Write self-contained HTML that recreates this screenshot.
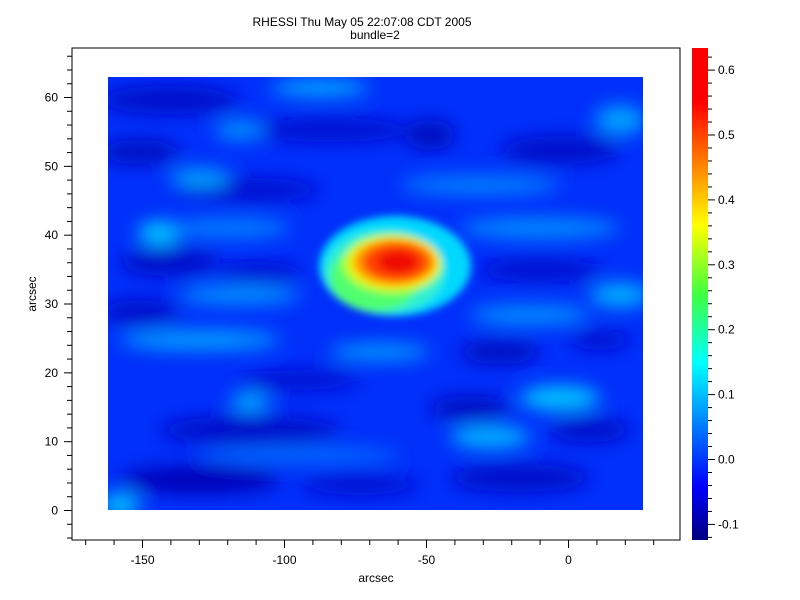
<!DOCTYPE html>
<html><head><meta charset="utf-8"><style>
body{margin:0;background:#fff;}
svg{display:block;font-family:"Liberation Sans","DejaVu Sans",sans-serif;}
</style></head><body>
<svg width="800" height="600" viewBox="0 0 800 600" xmlns="http://www.w3.org/2000/svg">
<defs>
<clipPath id="img"><rect x="108" y="77" width="535" height="433"/></clipPath>
<filter id="b1" x="-50%" y="-50%" width="200%" height="200%"><feGaussianBlur stdDeviation="9"/></filter>
<filter id="b2" x="-50%" y="-50%" width="200%" height="200%"><feGaussianBlur stdDeviation="4"/></filter>
<linearGradient id="jet" x1="0" y1="1" x2="0" y2="0">
<stop offset="0" stop-color="#000080"/>
<stop offset="0.11" stop-color="#0000ff"/>
<stop offset="0.36" stop-color="#00ffff"/>
<stop offset="0.5" stop-color="#40ff40"/>
<stop offset="0.64" stop-color="#ffff00"/>
<stop offset="0.89" stop-color="#ff0000"/>
<stop offset="1" stop-color="#ff0000"/>
</linearGradient>
</defs>
<text x="362" y="26" font-size="12" text-anchor="middle">RHESSI Thu May 05 22:07:08 CDT 2005</text>
<text x="375" y="39" font-size="12" text-anchor="middle">bundle=2</text>

<g clip-path="url(#img)">
<rect x="108" y="77" width="535" height="433" fill="#0030fa"/>
<g filter="url(#b1)">
<ellipse cx="170" cy="100" rx="70" ry="14" fill="#0008c8"/>
<ellipse cx="140" cy="152" rx="40" ry="12" fill="#0008c0"/>
<ellipse cx="330" cy="130" rx="80" ry="12" fill="#0010d0"/>
<ellipse cx="560" cy="150" rx="60" ry="14" fill="#0008c8"/>
<ellipse cx="430" cy="135" rx="25" ry="15" fill="#0008c0"/>
<ellipse cx="250" cy="190" rx="70" ry="12" fill="#0010d0"/>
<ellipse cx="170" cy="262" rx="50" ry="14" fill="#0008c8"/>
<ellipse cx="260" cy="272" rx="40" ry="10" fill="#0010d0"/>
<ellipse cx="540" cy="270" rx="60" ry="12" fill="#0010d0"/>
<ellipse cx="140" cy="312" rx="40" ry="12" fill="#0008c8"/>
<ellipse cx="500" cy="352" rx="40" ry="12" fill="#0008c0"/>
<ellipse cx="600" cy="340" rx="30" ry="10" fill="#0010d0"/>
<ellipse cx="300" cy="380" rx="60" ry="10" fill="#0010d0"/>
<ellipse cx="470" cy="408" rx="40" ry="12" fill="#0008c0"/>
<ellipse cx="250" cy="430" rx="90" ry="14" fill="#0008c8"/>
<ellipse cx="590" cy="430" rx="40" ry="12" fill="#0008c8"/>
<ellipse cx="200" cy="480" rx="80" ry="14" fill="#0000b8"/>
<ellipse cx="520" cy="478" rx="70" ry="14" fill="#0008c8"/>
<ellipse cx="360" cy="485" rx="60" ry="10" fill="#0010d0"/>
<ellipse cx="320" cy="88" rx="50" ry="8" fill="#00b0ff"/>
<ellipse cx="620" cy="120" rx="25" ry="15" fill="#00a0ff"/>
<ellipse cx="240" cy="130" rx="25" ry="10" fill="#0090ff"/>
<ellipse cx="200" cy="178" rx="30" ry="10" fill="#00a0ff"/>
<ellipse cx="480" cy="185" rx="80" ry="10" fill="#0080ff"/>
<ellipse cx="160" cy="233" rx="22" ry="12" fill="#00c8ff"/>
<ellipse cx="230" cy="228" rx="60" ry="10" fill="#0080ff"/>
<ellipse cx="540" cy="228" rx="80" ry="10" fill="#0090ff"/>
<ellipse cx="240" cy="295" rx="60" ry="10" fill="#0090ff"/>
<ellipse cx="620" cy="295" rx="30" ry="12" fill="#00b0ff"/>
<ellipse cx="200" cy="340" rx="80" ry="10" fill="#00a0ff"/>
<ellipse cx="380" cy="352" rx="50" ry="8" fill="#00a0ff"/>
<ellipse cx="530" cy="315" rx="60" ry="10" fill="#0090ff"/>
<ellipse cx="250" cy="402" rx="20" ry="9" fill="#00b0ff"/>
<ellipse cx="560" cy="398" rx="40" ry="12" fill="#00c8ff"/>
<ellipse cx="490" cy="437" rx="40" ry="10" fill="#00c0ff"/>
<ellipse cx="300" cy="455" rx="100" ry="8" fill="#0070ff"/>
<ellipse cx="120" cy="505" rx="20" ry="12" fill="#00c0ff"/>
</g>
<g filter="url(#b2)">
<ellipse cx="395" cy="266" rx="76" ry="50" fill="#00d8ff"/>
<ellipse cx="385" cy="272" rx="60" ry="42" fill="#30f0d0"/>
<ellipse cx="375" cy="278" rx="45" ry="33" fill="#50ff70"/>
<ellipse cx="392" cy="264" rx="50" ry="30" fill="#b0ff30"/>
<ellipse cx="394" cy="263" rx="45" ry="26" fill="#ffe000"/>
<ellipse cx="395" cy="262" rx="40" ry="23" fill="#ff9000"/>
<ellipse cx="396" cy="262" rx="32" ry="18" fill="#ff4000"/>
<ellipse cx="398" cy="262" rx="20" ry="11" fill="#f01000"/>
</g>
</g>

<rect x="72" y="48" width="608" height="492" fill="none" stroke="#000" stroke-width="1"/>
<g stroke="#000" stroke-width="1" id="ticks"></g>
<g font-size="12" id="labels"></g>
<text x="376" y="582" font-size="12" text-anchor="middle">arcsec</text>
<text x="36" y="294" font-size="12" text-anchor="middle" transform="rotate(-90 36 294)">arcsec</text>

<rect x="692" y="48" width="16" height="492" fill="url(#jet)"/>
<g id="cb" stroke="#000"></g>
<g id="cbl" font-size="12"></g>
</svg>
<script>
var ns="http://www.w3.org/2000/svg";
function L(g,x1,y1,x2,y2){var e=document.createElementNS(ns,"line");e.setAttribute("x1",x1);e.setAttribute("y1",y1);e.setAttribute("x2",x2);e.setAttribute("y2",y2);document.getElementById(g).appendChild(e);}
function T(g,x,y,s,a){var e=document.createElementNS(ns,"text");e.setAttribute("x",x);e.setAttribute("y",y);e.setAttribute("text-anchor",a);e.textContent=s;document.getElementById(g).appendChild(e);}
for(var v=-170;v<=30;v+=10){var x=568+v*2.84+0.5;var maj=v%50==0;L("ticks",x,540,x,maj?548:545);if(maj)T("labels",x,564,v,"middle");}
for(var v=-4;v<=66;v+=2){var y=510-v*6.883+0.5;var maj=v%10==0;L("ticks",72,y,maj?64:67,y);if(maj)T("labels",58,y+4,v,"end");}
for(var v=-0.12;v<=0.631;v+=0.02){var y=459-v*649+0.5;var k=Math.round(v*100);var maj=k%10==0;L("cb",708,y,maj?715:712,y);if(maj)T("cbl",718,y+4,(k/100).toFixed(1),"start");}
</script>
</body></html>
